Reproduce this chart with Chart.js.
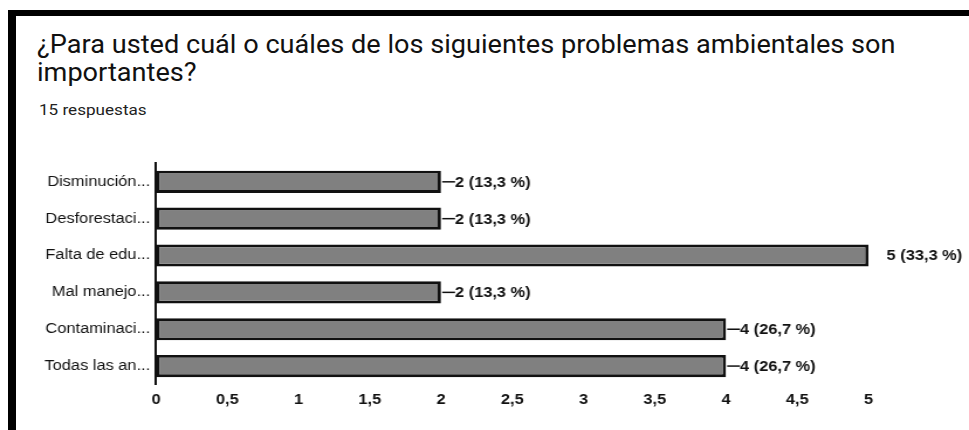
<!DOCTYPE html>
<html>
<head>
<meta charset="utf-8">
<script src="https://cdn.jsdelivr.net/npm/chart.js@4.4.0/dist/chart.umd.min.js"></script>
<style>
  body { margin: 0; background: #fff; }
  #page { position: relative; width: 969px; height: 430px; overflow: hidden; background: #fff; }
  .frameTop { position: absolute; left: 8px; top: 10px; width: 961px; height: 6px; background: #000; }
  .frameLeft { position: absolute; left: 8px; top: 10px; width: 8px; height: 420px; background: #000; }
  #titulo { position: absolute; left: 37px; top: 31px; width: 800px; font-family: Roboto, sans-serif; font-size: 25px; line-height: 28px; color: #111;
            transform: scaleX(1.085); transform-origin: left top; }
  #respuestas { position: absolute; left: 39px; top: 101px; font-family: Roboto, sans-serif; font-size: 15px; color: #222;
                transform: scaleX(1.14); transform-origin: left top; }
  #grafico { position: absolute; left: 0; top: 150px; }
</style>
</head>
<body>
<div id="page">
  <div class="frameTop"></div>
  <div class="frameLeft"></div>
  <div id="titulo">¿Para usted cuál o cuáles de los siguientes problemas ambientales son importantes?</div>
  <div id="respuestas">15 respuestas</div>
  <!-- el lienzo se estira en horizontal como la captura original -->
  <canvas id="grafico" width="828" height="280" style="width:969px;height:280px"></canvas>
</div>
<script>
// datos
const categorias = ["Disminución...", "Desforestaci...", "Falta de edu...", "Mal manejo...", "Contaminaci...", "Todas las an..."];
const respuestas = [2, 2, 5, 2, 4, 4];
const porcentajes = [13.3, 13.3, 33.3, 13.3, 26.7, 26.7];
const ticksX = [0, 0.5, 1, 1.5, 2, 2.5, 3, 3.5, 4, 4.5, 5];

const estirar = 969 / 828;

function coma(n) {
  return String(n).replace(".", ",");
}

// etiquetas al final de cada barra
const etiquetasBarras = {
  id: "etiquetasBarras",
  afterDatasetsDraw(chart) {
    const ctx = chart.ctx;
    const meta = chart.getDatasetMeta(0);
    const xMax = chart.scales.x.getPixelForValue(chart.scales.x.max);
    ctx.save();
    ctx.font = "bold 14px 'Liberation Sans', Arial, sans-serif";
    ctx.fillStyle = "#111";
    ctx.textBaseline = "middle";
    meta.data.forEach(function (bar, i) {
      const txt = respuestas[i] + " (" + coma(porcentajes[i]) + " %)";
      if (bar.x >= xMax - 1) {
        ctx.fillText(txt, bar.x + 15.5, bar.y + 1);
      } else {
        ctx.strokeStyle = "#111";
        ctx.lineWidth = 1.5;
        ctx.beginPath();
        ctx.moveTo(bar.x + 1, bar.y);
        ctx.lineTo(bar.x + 12, bar.y);
        ctx.stroke();
        ctx.fillText(txt, bar.x + 12, bar.y + 1);
      }
    });
    ctx.restore();
  }
};

const canvas = document.getElementById("grafico");
new Chart(canvas, {
  type: "bar",
  data: {
    labels: categorias,
    datasets: [
      {
        data: respuestas,
        backgroundColor: "#808080",
        borderColor: "#111",
        borderWidth: 2.8,
        borderSkipped: false,
        barPercentage: 0.6,
        categoryPercentage: 1
      }
    ]
  },
  options: {
    indexAxis: "y",
    responsive: false,
    animation: false,
    devicePixelRatio: 1,
    layout: { padding: { left: 0, right: 85.9, top: 11, bottom: 15.5 } },
    plugins: {
      legend: { display: false },
      tooltip: { enabled: false }
    },
    scales: {
      x: {
        min: 0,
        max: 5,
        afterBuildTicks: function (scale) {
          scale.ticks = ticksX.map(v => ({ value: v }));
        },
        afterFit: function (scale) { scale.height = 30; },
        grid: { display: false, drawTicks: false },
        border: { display: false },
        ticks: {
          padding: 7,
          color: "#111",
          font: { family: "'Liberation Sans', Arial, sans-serif", size: 14, weight: "bold" },
          callback: v => coma(v)
        }
      },
      y: {
        afterFit: function (scale) { scale.width = 156 / estirar; },
        grid: { display: false, drawTicks: false },
        border: { display: true, color: "#111", width: 2 },
        ticks: {
          padding: 5,
          color: "#111",
          font: { family: "'Liberation Sans', Arial, sans-serif", size: 14 }
        }
      }
    }
  },
  plugins: [etiquetasBarras]
});
canvas.style.width = "969px";
canvas.style.height = "280px";
</script>
</body>
</html>
